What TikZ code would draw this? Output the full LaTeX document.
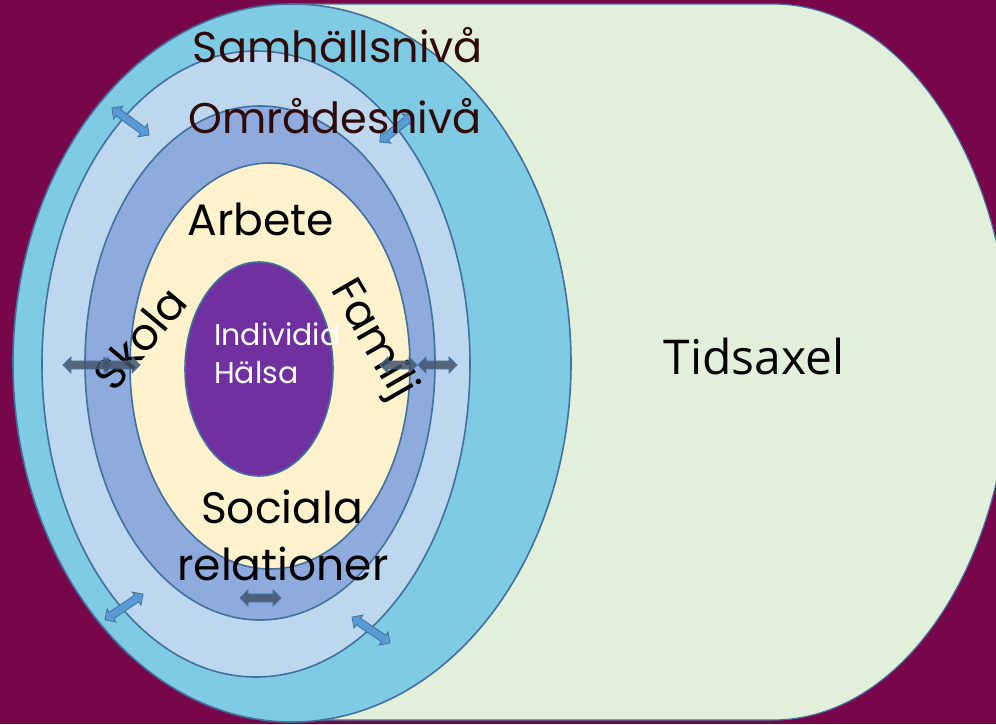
\documentclass[tikz,border=0pt]{standalone}
\usepackage{fontspec}
\setmainfont{Poppins}
\newfontfamily\axisfont{Open Sans}
\usetikzlibrary{shapes.arrows}

\definecolor{bgmaroon}{HTML}{78064A}
\definecolor{timegreen}{HTML}{E2EFDA}
\definecolor{ringcyan}{HTML}{7ECBE3}
\definecolor{ringlight}{HTML}{BDD7EE}
\definecolor{ringmid}{HTML}{8FAADC}
\definecolor{ringcream}{HTML}{FFF2CC}
\definecolor{corepurple}{HTML}{7030A0}
\definecolor{edgeblue}{HTML}{41719C}
\definecolor{arrowblue}{HTML}{5B9BD5}
\definecolor{arrowslate}{HTML}{44546A}
\definecolor{labelbrown}{HTML}{2E0A0A}

\tikzset{
  ring/.style={draw=edgeblue, line width=1.6pt},
  dblarrow/.style={double arrow, draw=edgeblue, line width=0.8pt,
    double arrow head extend=4pt, inner xsep=0pt, inner ysep=3.5pt,
    minimum height=#1, text height=0pt, text depth=0pt, text width=0pt},
  bluearrow/.style={dblarrow=#1, fill=arrowblue},
  slatearrow/.style={dblarrow=#1, fill=arrowslate, fill opacity=0.85},
  tierlabel/.style={font=\fontsize{43}{50}\selectfont, text=labelbrown, anchor=base, inner sep=0pt},
  arenalabel/.style={font=\fontsize{44}{50}\selectfont, text=black, anchor=base, inner sep=0pt},
}

\begin{document}
\begin{tikzpicture}[x=1pt, y=-1pt]
  \useasboundingbox (0,0) rectangle (996,724);
  \fill[bgmaroon] (0,0) rectangle (996,724);

  % time axis band with rounded right end
  \begin{scope}
    \clip (0,0) rectangle (996,724);
    \draw[fill=timegreen, draw=edgeblue, line width=1.2pt]
      (300,4) -- (773,4)
      arc[start angle=90, end angle=-90, x radius=237pt, y radius=358pt]
      -- (300,720) -- cycle;
  \end{scope}

  % nested levels
  \draw[ring, fill=ringcyan]   (292,363) ellipse [x radius=279pt, y radius=359pt];
  \draw[ring, fill=ringlight]  (256,364) ellipse [x radius=214pt, y radius=313pt];
  \draw[ring, fill=ringmid]    (260,363) ellipse [x radius=175pt, y radius=257pt];
  \draw[ring, fill=ringcream]  (270,366) ellipse [x radius=140pt, y radius=203pt];
  \draw[ring, fill=corepurple] (259,369) ellipse [x radius=74pt,  y radius=107pt];

  % exchange arrows between the outer levels
  \node[bluearrow=46pt, rotate=-36] (a1) at (130.5,121.5) {};
  \node[bluearrow=43pt, rotate=39]  (a2) at (396.5,128.5) {};
  \node[bluearrow=46pt, rotate=34]  (a5) at (124,607) {};
  \node[bluearrow=46pt, rotate=-34] (a7) at (371,630) {};

  % level labels
  \node[tierlabel] (samhalle) at (338,62) {Samhällsnivå};
  \node[tierlabel] (omrade)   at (335,133) {Områdesnivå};

  % arenas around the individual
  \node[arenalabel] (arbete)   at (261,235) {Arbete};
  \node[arenalabel] (sociala)  at (282,523) {Sociala};
  \node[arenalabel] (relation) at (283,580) {relationer};
  \node[arenalabel, anchor=center, rotate=50]  (skola)  at (140,338) {Skola};
  \node[arenalabel, anchor=center, rotate=-60] (familj) at (372,340) {Familj};

  % individual core
  \node[font=\fontsize{30}{38}\selectfont, text=white, anchor=base west,
        align=left, inner sep=0pt] (individ) at (214,383) {Individid\\Hälsa};

  % exchange arrows between the inner levels
  \node[slatearrow=49pt] (a3)  at (87.5,365) {};
  \node[slatearrow=40pt] (a3b) at (120,365) {};
  \node[slatearrow=37pt] (a4)  at (398.5,365) {};
  \node[slatearrow=39pt] (a4b) at (437.5,365) {};
  \node[slatearrow=41pt] (a6)  at (260.5,598) {};

  % time axis label
  \node[font=\axisfont\fontsize{48}{54}\selectfont, anchor=base, inner sep=0pt]
    (tid) at (754,374) {Tidsaxel};
\end{tikzpicture}
\end{document}
